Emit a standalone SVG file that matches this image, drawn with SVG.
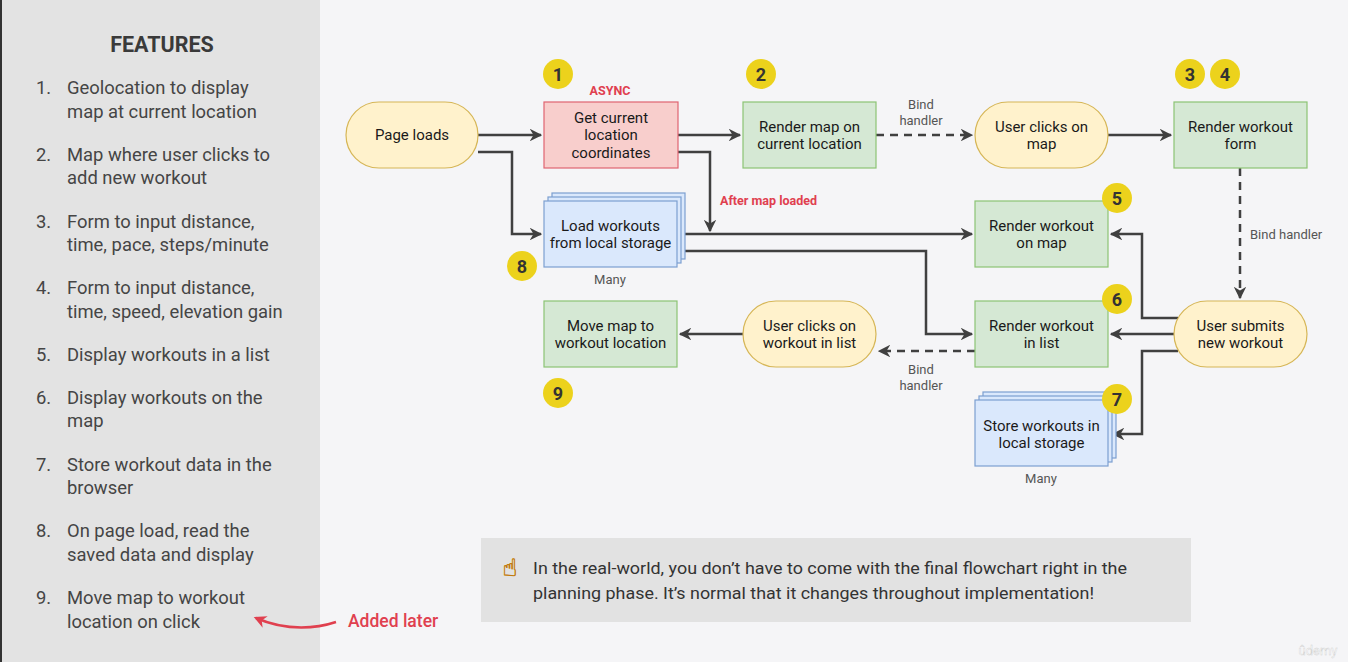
<svg xmlns="http://www.w3.org/2000/svg" width="1348" height="662" viewBox="0 0 1348 662">
<style>
  .panel-title{font-family:Roboto,"Liberation Sans",sans-serif;font-weight:700;font-size:21.5px;fill:#3a3a3a}
  .feat{font-family:Roboto,"Liberation Sans",sans-serif;font-size:18.4px;fill:#454545}
  .lbl{font-family:Roboto,"Liberation Sans",sans-serif;font-size:15px;fill:#1a1a1a;text-anchor:middle}
  .small{font-family:Roboto,"Liberation Sans",sans-serif;font-size:13px;fill:#555;text-anchor:middle}
  .left{text-anchor:start}
  .red{font-family:Roboto,"Liberation Sans",sans-serif;font-weight:700;fill:#e0404f}
  .badge circle{fill:#ecd21c}
  .badge text{font-family:Roboto,"Liberation Sans",sans-serif;font-weight:700;font-size:18px;fill:#333;text-anchor:middle}
  .stadium{fill:#fff2cc;stroke:#d6b656;stroke-width:1.2}
  .green{fill:#d5e8d4;stroke:#8cc474;stroke-width:1.2}
  .redbox{fill:#f8cecc;stroke:#e06470;stroke-width:1.2}
  .blue{fill:#dae8fc;stroke:#7c9fd0;stroke-width:1.2}
  .conn{fill:none;stroke:#404040;stroke-width:2.5}
  .dash{stroke-dasharray:8 6}
  .note{font-family:Roboto,"Liberation Sans",sans-serif;font-size:17px;fill:#333}
</style>
<defs>
  <marker id="arr" viewBox="0 0 10 10" refX="9" refY="5" markerWidth="5" markerHeight="5" markerUnits="strokeWidth" orient="auto">
    <path d="M0,0 L10,5 L0,10 L3,5 z" fill="#404040"/>
  </marker>
  <marker id="arrRed" viewBox="0 0 10 10" refX="8" refY="5" markerWidth="5" markerHeight="5" markerUnits="strokeWidth" orient="auto">
    <path d="M0,0 L10,5 L0,10 L3,5 z" fill="#e0404f"/>
  </marker>
</defs>

<rect x="0" y="0" width="1348" height="662" fill="#f5f5f7"/>
<rect x="0" y="0" width="320" height="662" fill="#e3e3e3"/>
<rect x="0" y="0" width="2" height="662" fill="#333"/>

<g id="features">
  <text class="panel-title" x="162" y="52" text-anchor="middle">FEATURES</text>
  <text class="feat" x="36" y="94">1.</text>
  <text class="feat" x="67" y="94">Geolocation to display</text>
  <text class="feat" x="67" y="118">map at current location</text>
  <text class="feat" x="36" y="161">2.</text>
  <text class="feat" x="67" y="161">Map where user clicks to</text>
  <text class="feat" x="67" y="184">add new workout</text>
  <text class="feat" x="36" y="228">3.</text>
  <text class="feat" x="67" y="228">Form to input distance,</text>
  <text class="feat" x="67" y="251">time, pace, steps/minute</text>
  <text class="feat" x="36" y="294">4.</text>
  <text class="feat" x="67" y="294">Form to input distance,</text>
  <text class="feat" x="67" y="318">time, speed, elevation gain</text>
  <text class="feat" x="36" y="361">5.</text>
  <text class="feat" x="67" y="361">Display workouts in a list</text>
  <text class="feat" x="36" y="404">6.</text>
  <text class="feat" x="67" y="404">Display workouts on the</text>
  <text class="feat" x="67" y="427">map</text>
  <text class="feat" x="36" y="471">7.</text>
  <text class="feat" x="67" y="471">Store workout data in the</text>
  <text class="feat" x="67" y="494">browser</text>
  <text class="feat" x="36" y="537">8.</text>
  <text class="feat" x="67" y="537">On page load, read the</text>
  <text class="feat" x="67" y="561">saved data and display</text>
  <text class="feat" x="36" y="604">9.</text>
  <text class="feat" x="67" y="604">Move map to workout</text>
  <text class="feat" x="67" y="628">location on click</text>
</g>

<g id="added-later">
  <path d="M336,622 C318,628 288,632 256,618" fill="none" stroke="#e0404f" stroke-width="2.5" marker-end="url(#arrRed)"/>
  <text class="red" x="348" y="627" font-size="17.5" style="font-weight:500">Added later</text>
</g>

<g id="connectors">
  <path class="conn" d="M478,135 H541" marker-end="url(#arr)"/>
  <path class="conn" d="M478,152 H512 V234 H541" marker-end="url(#arr)"/>
  <path class="conn" d="M678,135 H740" marker-end="url(#arr)"/>
  <path class="conn" d="M678,152 H710 V231" marker-end="url(#arr)"/>
  <path class="conn" d="M677,234 H972" marker-end="url(#arr)"/>
  <path class="conn" d="M677,251 H926 V334 H972" marker-end="url(#arr)"/>
  <path class="conn dash" d="M876,135 H972" marker-end="url(#arr)"/>
  <path class="conn" d="M1108,135 H1171" marker-end="url(#arr)"/>
  <path class="conn dash" d="M1240,168 V298" marker-end="url(#arr)"/>
  <path class="conn" d="M1178,318 H1142 V234 H1111" marker-end="url(#arr)"/>
  <path class="conn" d="M1174,334 H1111" marker-end="url(#arr)"/>
  <path class="conn" d="M1178,351 H1142 V434 H1113" marker-end="url(#arr)"/>
  <path class="conn dash" d="M975,351 H879" marker-end="url(#arr)"/>
  <path class="conn" d="M743,334 H680" marker-end="url(#arr)"/>
  <text class="small" x="921" y="109">Bind</text>
  <text class="small" x="921" y="125">handler</text>
  <text class="small left" x="1250" y="239">Bind handler</text>
  <text class="small" x="921" y="374">Bind</text>
  <text class="small" x="921" y="390">handler</text>
  <text class="red" x="720" y="205" font-size="12.5">After map loaded</text>
</g>

<g id="page-loads">
  <rect class="stadium" x="346" y="102" width="132" height="66" rx="33"/>
  <text class="lbl" x="412" y="140">Page loads</text>
</g>

<g id="get-location">
  <text class="red" x="610" y="95" font-size="12.5" text-anchor="middle">ASYNC</text>
  <rect class="redbox" x="544" y="102" width="134" height="66"/>
  <text class="lbl" x="611" y="123">Get current</text>
  <text class="lbl" x="611" y="140">location</text>
  <text class="lbl" x="611" y="158">coordinates</text>
</g>

<g id="render-map">
  <rect class="green" x="743" y="102" width="133" height="66"/>
  <text class="lbl" x="809.5" y="132">Render map on</text>
  <text class="lbl" x="809.5" y="149">current location</text>
</g>

<g id="user-clicks-map">
  <rect class="stadium" x="975" y="102" width="133" height="66" rx="33"/>
  <text class="lbl" x="1041.5" y="132">User clicks on</text>
  <text class="lbl" x="1041.5" y="149">map</text>
</g>

<g id="render-form">
  <rect class="green" x="1174" y="102" width="133" height="66"/>
  <text class="lbl" x="1240.5" y="132">Render workout</text>
  <text class="lbl" x="1240.5" y="149">form</text>
</g>

<g id="load-workouts">
  <rect class="blue" x="552" y="193" width="133" height="66"/>
  <rect class="blue" x="548" y="197" width="133" height="66"/>
  <rect class="blue" x="544" y="201" width="133" height="66"/>
  <text class="lbl" x="610.5" y="231">Load workouts</text>
  <text class="lbl" x="610.5" y="248">from local storage</text>
  <text class="small" x="610" y="284">Many</text>
</g>

<g id="render-on-map">
  <rect class="green" x="975" y="201" width="133" height="66"/>
  <text class="lbl" x="1041.5" y="231">Render workout</text>
  <text class="lbl" x="1041.5" y="248">on map</text>
</g>

<g id="render-in-list">
  <rect class="green" x="975" y="301" width="133" height="66"/>
  <text class="lbl" x="1041.5" y="331">Render workout</text>
  <text class="lbl" x="1041.5" y="348">in list</text>
</g>

<g id="user-submits">
  <rect class="stadium" x="1174" y="301" width="133" height="66" rx="33"/>
  <text class="lbl" x="1240.5" y="331">User submits</text>
  <text class="lbl" x="1240.5" y="348">new workout</text>
</g>

<g id="user-clicks-list">
  <rect class="stadium" x="743" y="301" width="133" height="66" rx="33"/>
  <text class="lbl" x="809.5" y="331">User clicks on</text>
  <text class="lbl" x="809.5" y="348">workout in list</text>
</g>

<g id="move-map">
  <rect class="green" x="544" y="301" width="133" height="66"/>
  <text class="lbl" x="610.5" y="331">Move map to</text>
  <text class="lbl" x="610.5" y="348">workout location</text>
</g>

<g id="store-workouts">
  <rect class="blue" x="983" y="392" width="133" height="66"/>
  <rect class="blue" x="979" y="396" width="133" height="66"/>
  <rect class="blue" x="975" y="400" width="133" height="66"/>
  <text class="lbl" x="1041.5" y="431">Store workouts in</text>
  <text class="lbl" x="1041.5" y="448">local storage</text>
  <text class="small" x="1041" y="483">Many</text>
</g>

<g id="badges">
  <g class="badge"><circle cx="558" cy="74" r="15"/><text x="558" y="80.5">1</text></g>
  <g class="badge"><circle cx="761" cy="74" r="15"/><text x="761" y="80.5">2</text></g>
  <g class="badge"><circle cx="1190" cy="74" r="15"/><text x="1190" y="80.5">3</text></g>
  <g class="badge"><circle cx="1225" cy="74" r="15"/><text x="1225" y="80.5">4</text></g>
  <g class="badge"><circle cx="1117" cy="198" r="15"/><text x="1117" y="204.5">5</text></g>
  <g class="badge"><circle cx="1117" cy="299" r="15"/><text x="1117" y="305.5">6</text></g>
  <g class="badge"><circle cx="1117" cy="399" r="15"/><text x="1117" y="405.5">7</text></g>
  <g class="badge"><circle cx="522" cy="266" r="15"/><text x="522" y="272.5">8</text></g>
  <g class="badge"><circle cx="558" cy="393" r="15"/><text x="558" y="399.5">9</text></g>
</g>

<g id="note">
  <rect x="481" y="538" width="710" height="84" fill="#e2e2e2"/>
  <text x="510" y="576" font-family="'DejaVu Sans',sans-serif" font-size="24" fill="#f0b030" stroke="#c07a10" stroke-width="0.6" text-anchor="middle">☝</text>
  <text class="note" x="533" y="574" textLength="594" lengthAdjust="spacingAndGlyphs">In the real-world, you don’t have to come with the final flowchart right in the</text>
  <text class="note" x="533" y="599" textLength="561" lengthAdjust="spacingAndGlyphs">planning phase. It’s normal that it changes throughout implementation!</text>
</g>

<text x="1318" y="655" font-family="Roboto,'Liberation Sans',sans-serif" font-size="13" fill="#ffffff" stroke="#d0d0d0" stroke-width="0.4" text-anchor="middle">ûdemy</text>
</svg>
